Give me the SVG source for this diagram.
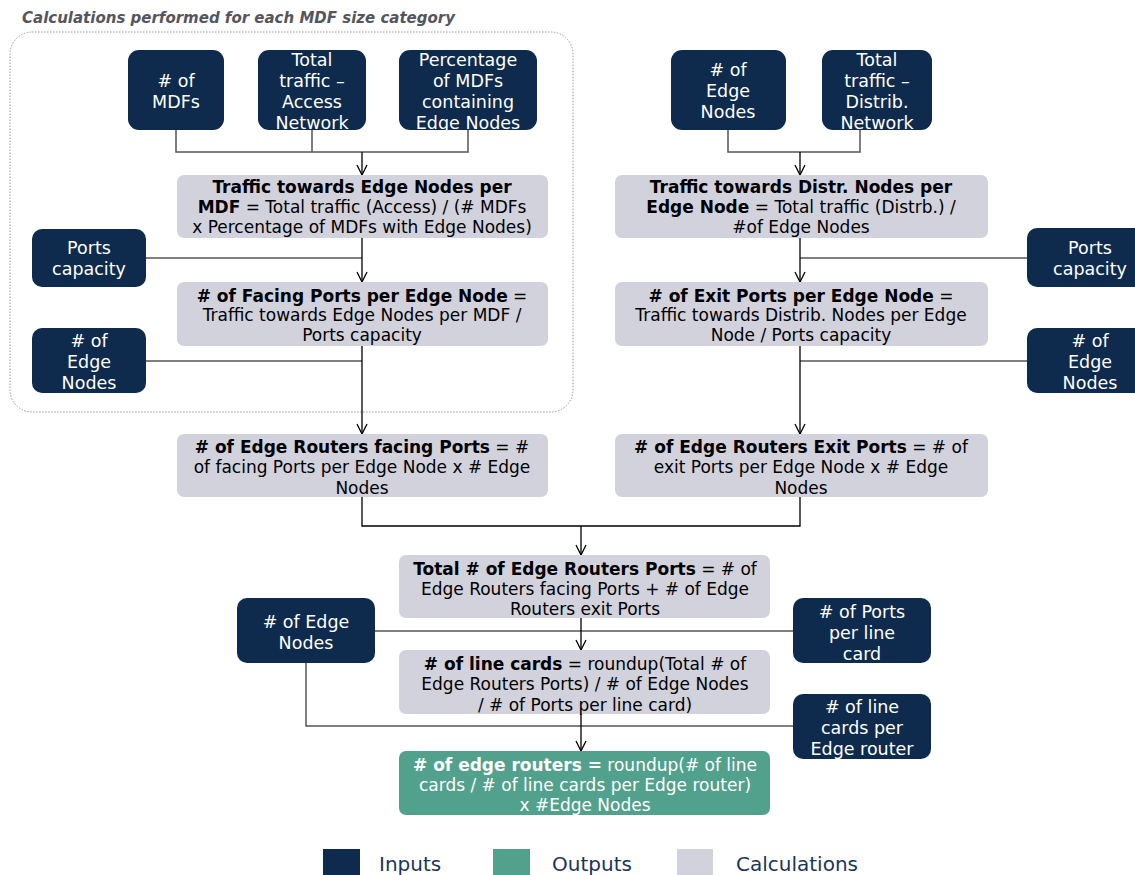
<svg xmlns="http://www.w3.org/2000/svg" width="1135" height="875" viewBox="0 0 1135 875">
<defs>
<marker id="arr" viewBox="0 0 12 12" refX="11" refY="6" markerWidth="12" markerHeight="12" markerUnits="userSpaceOnUse" orient="auto">
<path d="M1,1 L11,6 L1,11" fill="none" stroke="#000" stroke-width="1.3"/>
</marker>
<style>
.in{fill:#0e2a4d}
.calc{fill:#d2d2dc}
.out{fill:#52a18d}
.it{font-family:"DejaVu Sans",Verdana,sans-serif;font-size:17.5px;fill:#fff;text-anchor:middle}
.ct{font-family:"DejaVu Sans",Verdana,sans-serif;font-size:17px;fill:#000;text-anchor:middle}
.ot{font-family:"DejaVu Sans",Verdana,sans-serif;font-size:17px;fill:#fff;text-anchor:middle}
.b{font-weight:bold}
.ln{fill:none;stroke:#555;stroke-width:1.5}
.ar{fill:none;stroke:#000;stroke-width:1.3;marker-end:url(#arr)}
.lg{font-family:"DejaVu Sans",Verdana,sans-serif;font-size:20px;fill:#1b3558}
</style>
</defs>
<rect width="1135" height="875" fill="#fff"/>
<text x="22" y="23" font-family="DejaVu Sans,Verdana,sans-serif" font-size="15" font-weight="bold" font-style="italic" fill="#55555f">Calculations performed for each MDF size category</text>
<rect x="10" y="32" width="563" height="380" rx="22" fill="none" stroke="#999" stroke-width="1" stroke-dasharray="1.5,1.5"/>

<g id="connectors">
<polyline class="ln" points="176,130 176,152 468,152 468,130"/>
<line class="ln" x1="312" y1="130" x2="312" y2="152"/>
<line class="ar" x1="362" y1="152" x2="362" y2="175"/>
<line class="ln" x1="146" y1="258" x2="362" y2="258"/>
<line class="ar" x1="362" y1="238" x2="362" y2="282"/>
<line class="ln" x1="146" y1="361" x2="362" y2="361"/>
<line class="ar" x1="362" y1="346" x2="362" y2="434"/>
<polyline class="ln" points="728,130 728,152 860,152 860,130"/>
<line class="ar" x1="800" y1="152" x2="800" y2="175"/>
<line class="ln" x1="800" y1="258" x2="1027" y2="258"/>
<line class="ar" x1="800" y1="238" x2="800" y2="282"/>
<line class="ln" x1="800" y1="361" x2="1027" y2="361"/>
<line class="ar" x1="800" y1="346" x2="800" y2="434"/>
<polyline class="ln" points="362,497 362,526 800,526 800,497" style="stroke:#000;stroke-width:1.3"/>
<line class="ar" x1="581" y1="526" x2="581" y2="555"/>
<line class="ln" x1="375" y1="631" x2="793" y2="631"/>
<line class="ar" x1="581" y1="618" x2="581" y2="650"/>
<polyline class="ln" points="306,663 306,726 793,726"/>
<line class="ar" x1="581" y1="714" x2="581" y2="751"/>
</g>

<g id="n-mdfs"><rect class="in" x="128" y="50" width="96" height="80" rx="11"/>
<text class="it"><tspan x="176" y="87"># of</tspan><tspan x="176" y="108">MDFs</tspan></text></g>
<g id="n-traffic-access"><rect class="in" x="258" y="50" width="108" height="80" rx="11"/>
<text class="it"><tspan x="312" y="66">Total</tspan><tspan x="312" y="87">traffic –</tspan><tspan x="312" y="108">Access</tspan><tspan x="312" y="129">Network</tspan></text></g>
<g id="n-pct"><rect class="in" x="399" y="50" width="138" height="80" rx="11"/>
<text class="it"><tspan x="468" y="66">Percentage</tspan><tspan x="468" y="87">of MDFs</tspan><tspan x="468" y="108">containing</tspan><tspan x="468" y="129">Edge Nodes</tspan></text></g>

<g id="n-edge-r"><rect class="in" x="671" y="50" width="115" height="80" rx="11"/>
<text class="it"><tspan x="728" y="76"># of</tspan><tspan x="728" y="97">Edge</tspan><tspan x="728" y="118">Nodes</tspan></text></g>
<g id="n-traffic-distrib"><rect class="in" x="822" y="50" width="110" height="80" rx="11"/>
<text class="it"><tspan x="877" y="66">Total</tspan><tspan x="877" y="87">traffic –</tspan><tspan x="877" y="108">Distrib.</tspan><tspan x="877" y="129">Network</tspan></text></g>

<g id="c-traffic-edge"><rect class="calc" x="177" y="175" width="371" height="63" rx="7"/>
<text class="ct"><tspan x="362" y="193" class="b">Traffic towards Edge Nodes per</tspan><tspan x="362" y="213"><tspan class="b">MDF</tspan> = Total traffic (Access) / (# MDFs</tspan><tspan x="362" y="233">x Percentage of MDFs with Edge Nodes)</tspan></text></g>

<g id="n-ports-l"><rect class="in" x="32" y="229" width="114" height="58" rx="10"/>
<text class="it"><tspan x="89" y="254">Ports</tspan><tspan x="89" y="275">capacity</tspan></text></g>

<g id="c-facing"><rect class="calc" x="177" y="282" width="371" height="64" rx="7"/>
<text class="ct"><tspan x="362" y="302"><tspan class="b"># of Facing Ports per Edge Node</tspan> =</tspan><tspan x="362" y="321">Traffic towards Edge Nodes per MDF /</tspan><tspan x="362" y="341">Ports capacity</tspan></text></g>

<g id="n-edge-l"><rect class="in" x="32" y="328" width="114" height="65" rx="10"/>
<text class="it"><tspan x="89" y="347"># of</tspan><tspan x="89" y="368">Edge</tspan><tspan x="89" y="389">Nodes</tspan></text></g>

<g id="c-traffic-distr"><rect class="calc" x="615" y="175" width="373" height="63" rx="7"/>
<text class="ct"><tspan x="801" y="193" class="b">Traffic towards Distr. Nodes per</tspan><tspan x="801" y="213"><tspan class="b">Edge Node</tspan> = Total traffic (Distrb.) /</tspan><tspan x="801" y="233">#of Edge Nodes</tspan></text></g>

<g id="n-ports-r"><rect class="in" x="1027" y="228" width="120" height="59" rx="10"/>
<text class="it"><tspan x="1090" y="254">Ports</tspan><tspan x="1090" y="275">capacity</tspan></text></g>

<g id="c-exit"><rect class="calc" x="615" y="282" width="373" height="64" rx="7"/>
<text class="ct"><tspan x="801" y="302"><tspan class="b"># of Exit Ports per Edge Node</tspan> =</tspan><tspan x="801" y="321">Traffic towards Distrib. Nodes per Edge</tspan><tspan x="801" y="341">Node / Ports capacity</tspan></text></g>

<g id="n-edge-r2"><rect class="in" x="1027" y="328" width="120" height="65" rx="10"/>
<text class="it"><tspan x="1090" y="347"># of</tspan><tspan x="1090" y="368">Edge</tspan><tspan x="1090" y="389">Nodes</tspan></text></g>

<g id="c-er-facing"><rect class="calc" x="177" y="434" width="371" height="63" rx="7"/>
<text class="ct"><tspan x="362" y="453"><tspan class="b"># of Edge Routers facing Ports</tspan> = #</tspan><tspan x="362" y="473">of facing Ports per Edge Node x # Edge</tspan><tspan x="362" y="494">Nodes</tspan></text></g>

<g id="c-er-exit"><rect class="calc" x="615" y="434" width="373" height="63" rx="7"/>
<text class="ct"><tspan x="801" y="453"><tspan class="b"># of Edge Routers Exit Ports</tspan> = # of</tspan><tspan x="801" y="473">exit Ports per Edge Node x # Edge</tspan><tspan x="801" y="494">Nodes</tspan></text></g>

<g id="c-total"><rect class="calc" x="399" y="555" width="371" height="63" rx="7"/>
<text class="ct"><tspan x="585" y="575"><tspan class="b">Total # of Edge Routers Ports</tspan> = # of</tspan><tspan x="585" y="595">Edge Routers facing Ports + # of Edge</tspan><tspan x="585" y="615">Routers exit Ports</tspan></text></g>

<g id="n-edge-b"><rect class="in" x="237" y="598" width="138" height="65" rx="10"/>
<text class="it"><tspan x="306" y="628"># of Edge</tspan><tspan x="306" y="649">Nodes</tspan></text></g>

<g id="n-ports-card"><rect class="in" x="793" y="598" width="138" height="65" rx="10"/>
<text class="it"><tspan x="862" y="618"># of Ports</tspan><tspan x="862" y="639">per line</tspan><tspan x="862" y="660">card</tspan></text></g>

<g id="c-linecards"><rect class="calc" x="399" y="650" width="371" height="64" rx="7"/>
<text class="ct"><tspan x="585" y="670"><tspan class="b"># of line cards</tspan> = roundup(Total # of</tspan><tspan x="585" y="690">Edge Routers Ports) / # of Edge Nodes</tspan><tspan x="585" y="711">/ # of Ports per line card)</tspan></text></g>

<g id="n-cards-router"><rect class="in" x="793" y="694" width="138" height="65" rx="10"/>
<text class="it"><tspan x="862" y="713"># of line</tspan><tspan x="862" y="734">cards per</tspan><tspan x="862" y="755">Edge router</tspan></text></g>

<g id="o-routers"><rect class="out" x="399" y="751" width="371" height="64" rx="7"/>
<text class="ot"><tspan x="585" y="771"><tspan class="b"># of edge routers =</tspan> roundup(# of line</tspan><tspan x="585" y="791">cards / # of line cards per Edge router)</tspan><tspan x="585" y="811">x #Edge Nodes</tspan></text></g>

<g id="legend">
<rect class="in" x="323" y="849" width="37" height="30"/>
<text class="lg" x="379" y="871">Inputs</text>
<rect class="out" x="493" y="849" width="37" height="30"/>
<text class="lg" x="552" y="871">Outputs</text>
<rect class="calc" x="677" y="849" width="36" height="30"/>
<text class="lg" x="736" y="871">Calculations</text>
</g>
</svg>
